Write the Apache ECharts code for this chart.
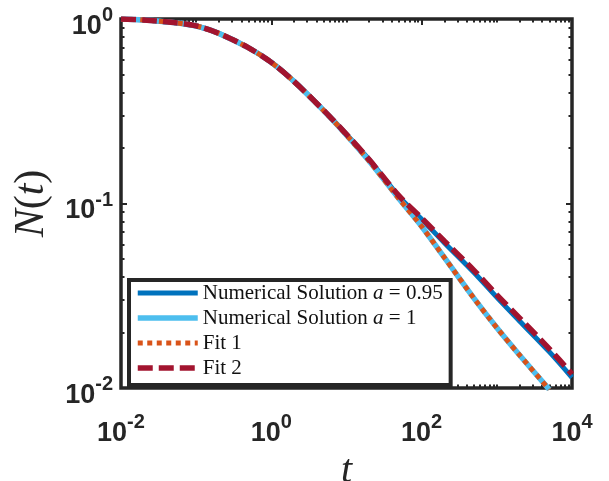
<!DOCTYPE html>
<html>
<head>
<meta charset="utf-8">
<script src="https://cdn.jsdelivr.net/npm/echarts@6/dist/echarts.min.js"></script>
<style>
  html, body { margin: 0; padding: 0; background: #fff; }
  #chart { width: 609px; height: 481px; }
</style>
</head>
<body>
<div id="chart"></div>
<script>
// ---- data ----
const tValues = [0.01, 0.02, 0.05, 0.1, 0.2, 0.5, 1, 2, 5, 10, 20, 50, 100, 200, 500, 1000, 2000, 5000, 10000];
const numA095 = [1.0, 0.988, 0.956, 0.917, 0.836, 0.697, 0.582, 0.459, 0.319, 0.237, 0.173, 0.109, 0.0822, 0.0613, 0.0421, 0.0310, 0.0231, 0.0157, 0.0114];
const numA1   = [1.0, 0.988, 0.956, 0.917, 0.836, 0.697, 0.582, 0.459, 0.318, 0.235, 0.170, 0.106, 0.0750, 0.0510, 0.0305, 0.0212, 0.0151, 0.0098, null];
const fit1    = [1.0, 0.988, 0.956, 0.917, 0.836, 0.697, 0.582, 0.459, 0.318, 0.235, 0.170, 0.106, 0.0750, 0.0510, 0.0305, 0.0212, 0.0151, 0.0098, null];
const fit2    = [1.0, 0.988, 0.956, 0.917, 0.836, 0.697, 0.582, 0.459, 0.319, 0.237, 0.173, 0.110, 0.0834, 0.0626, 0.0433, 0.0320, 0.0240, 0.0163, 0.0119];

const seriesNames = ['Numerical Solution a = 0.95', 'Numerical Solution a = 1', 'Fit 1', 'Fit 2'];
const xMajorTicks = [0.01, 1, 100, 10000];
const yMajorTicks = [0.01, 0.1, 1];
const xMinorTicks = [];
for (let e = -2; e < 4; e++) for (let k = 1; k <= 9; k++) { if (k === 1 && e % 2 === 0) continue; xMinorTicks.push(k * Math.pow(10, e)); }
const yMinorTicks = [];
for (let e = -2; e < 0; e++) for (let k = 2; k <= 9; k++) yMinorTicks.push(k * Math.pow(10, e));

function pairs(ys) { return tValues.map((t, i) => ys[i] == null ? null : [t, ys[i]]).filter(p => p); }

const AX = '#262626';
const COLORS = ['#0072BD', '#4DBEEE', '#D95319', '#A2142F'];
const WIDTHS = [5, 5.5, 5, 5.5];
const DASHES = ['solid', 'solid', [5, 4.5], [15, 6]];

function powLabel(v) {
  const e = Math.round(Math.log10(v));
  return '{b|10}{s|' + e + '}';
}
const xLabelRich = {
  b: { fontFamily: 'Liberation Sans', fontWeight: 'bold', fontSize: 27, color: AX, padding: [10, 0, 0, 0] },
  s: { fontFamily: 'Liberation Sans', fontWeight: 'bold', fontSize: 20, color: AX, padding: [0, 0, 12, 0] }
};
const yLabelRich = {
  b: { fontFamily: 'Liberation Sans', fontWeight: 'bold', fontSize: 27, color: AX, padding: [15, 0, 0, 0] },
  s: { fontFamily: 'Liberation Sans', fontWeight: 'bold', fontSize: 20, color: AX, padding: [0, 0, 7, 0] }
};

function logAxis(extra) {
  return Object.assign({
    type: 'log', logBase: 10,
    splitLine: { show: false },
    axisLine: { show: false },
    axisLabel: { show: false },
    axisTick: { show: true, inside: true, length: 6, lineStyle: { color: AX, width: 2 } }
  }, extra);
}
function majorTicks(vals) {
  return { show: true, inside: true, length: 6, customValues: vals, lineStyle: { color: AX, width: 2 } };
}
function minorTicks(vals) {
  return { show: true, inside: true, length: 3.5, customValues: vals, lineStyle: { color: AX, width: 2 } };
}

const xCommon = { min: 0.01, max: 10000, interval: 2 };
const yCommon = { min: 0.01, max: 1, interval: 1 };

const seriesData = [numA095, numA1, fit1, fit2];

const chart = echarts.init(document.getElementById('chart'), null, { renderer: 'canvas' });
chart.setOption({
  animation: false,
  backgroundColor: '#fff',
  grid: { left: 121, right: 37, top: 19, bottom: 93, outerBoundsMode: 'none', containLabel: false,
          show: true, borderColor: AX, borderWidth: 3.5, backgroundColor: '#fff' },
  xAxis: [
    logAxis(Object.assign({}, xCommon, {
      position: 'bottom',
      axisTick: majorTicks(xMajorTicks),
      axisLabel: { show: true, margin: 22, formatter: powLabel, rich: xLabelRich, customValues: xMajorTicks },
      name: '{i|t}', nameLocation: 'middle', nameGap: 57,
      nameTextStyle: { rich: { i: { fontFamily: 'Liberation Serif', fontStyle: 'italic', fontSize: 40, color: AX } } }
    })),
    logAxis(Object.assign({}, xCommon, { position: 'bottom', axisTick: minorTicks(xMinorTicks) })),
    logAxis(Object.assign({}, xCommon, { position: 'top', axisTick: majorTicks(xMajorTicks) })),
    logAxis(Object.assign({}, xCommon, { position: 'top', axisTick: minorTicks(xMinorTicks) }))
  ],
  yAxis: [
    logAxis(Object.assign({}, yCommon, {
      position: 'left',
      axisTick: majorTicks(yMajorTicks),
      axisLabel: { show: true, margin: 8, formatter: powLabel, rich: yLabelRich, customValues: yMajorTicks },
      name: '{i|N}{r|(}{i|t}{r|)}', nameLocation: 'middle', nameGap: 68, nameRotate: 90,
      nameTextStyle: { rich: {
        i: { fontFamily: 'Liberation Serif', fontStyle: 'italic', fontSize: 42, color: AX },
        r: { fontFamily: 'Liberation Serif', fontSize: 42, color: AX }
      } }
    })),
    logAxis(Object.assign({}, yCommon, { position: 'left', axisTick: minorTicks(yMinorTicks) })),
    logAxis(Object.assign({}, yCommon, { position: 'right', axisTick: majorTicks(yMajorTicks) })),
    logAxis(Object.assign({}, yCommon, { position: 'right', axisTick: minorTicks(yMinorTicks) }))
  ],
  legend: {
    orient: 'vertical',
    left: 129, top: 280,
    padding: [2, 8, 6, 6],
    itemGap: 3,
    itemWidth: 60, itemHeight: 14,
    backgroundColor: '#fff',
    borderColor: AX, borderWidth: 4, borderRadius: 0,
    itemStyle: { opacity: 0 },
    data: seriesNames.map((n, i) => ({ name: n, lineStyle: { width: WIDTHS[i], color: COLORS[i], type: DASHES[i], cap: 'butt' } })),
    formatter: function (name) {
      const m = name.match(/^(Numerical Solution )a( = .*)$/);
      if (m) return '{n|' + m[1] + '}{i|a}{n|' + m[2] + '}';
      return '{n|' + name + '}';
    },
    textStyle: {
      lineHeight: 22,
      rich: {
        n: { fontFamily: 'Liberation Serif', fontSize: 21, color: '#111' },
        i: { fontFamily: 'Liberation Serif', fontStyle: 'italic', fontSize: 21, color: '#111' }
      }
    }
  },
  series: seriesNames.map((n, i) => ({
    name: n, type: 'line', data: pairs(seriesData[i]), smooth: 0.3, symbol: 'none',
    lineStyle: { color: COLORS[i], width: WIDTHS[i], type: DASHES[i], cap: 'butt' },
    itemStyle: { color: COLORS[i] }
  }))
});
</script>
</body>
</html>
